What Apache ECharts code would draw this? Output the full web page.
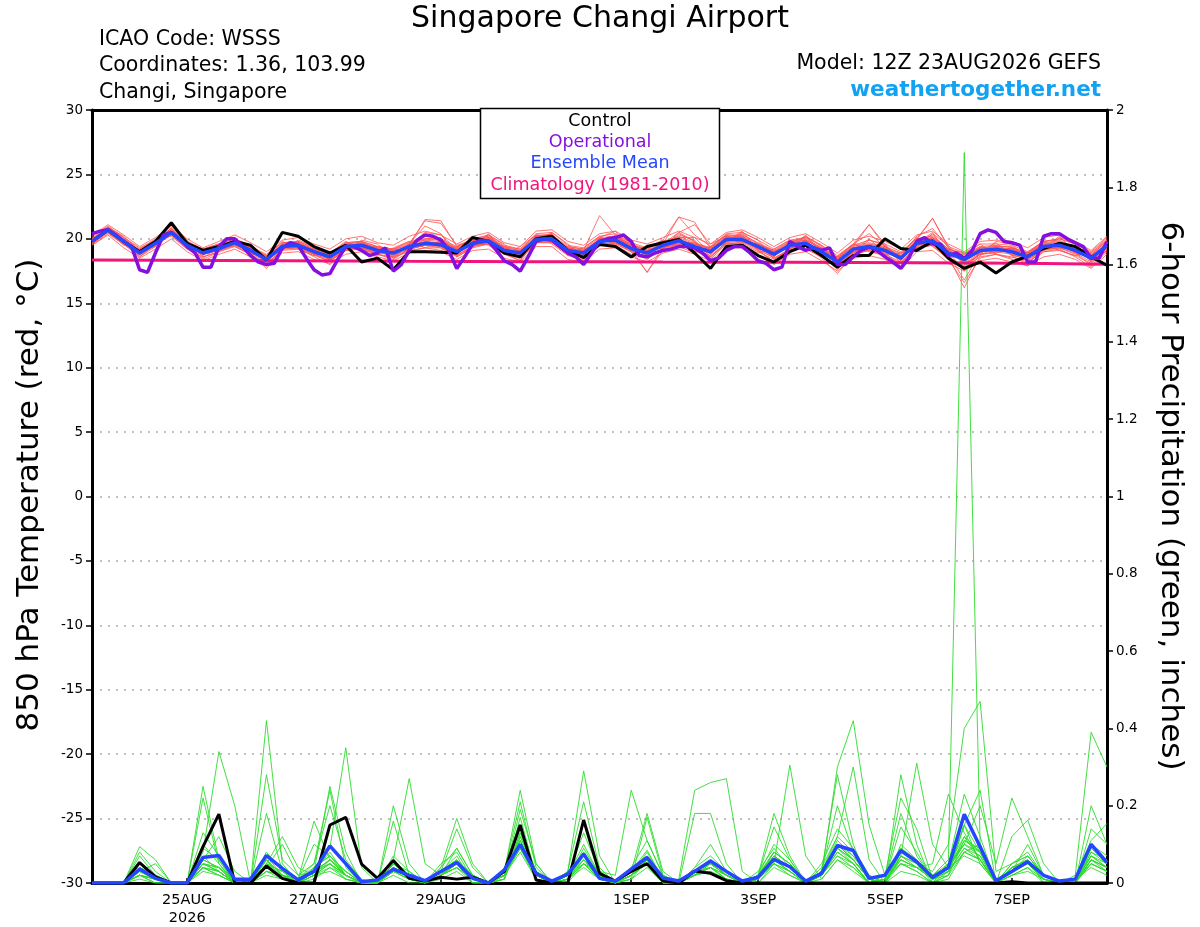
<!DOCTYPE html>
<html><head><meta charset="utf-8">
<script src="https://cdn.jsdelivr.net/npm/echarts@6/dist/echarts.min.js"></script>
<style>html,body{margin:0;padding:0;background:#fff}#c{width:1200px;height:927px}</style>
</head><body><div id="c"></div>
<script>
// ---- x axis ticks (forecast hour from 12Z 23AUG2026) ----
const tickHours = [36, 84, 132, 204, 252, 300, 348];
const tickLabels = ['25AUG\n2026', '27AUG', '29AUG', '1SEP', '3SEP', '5SEP', '7SEP'];
const ensStepHours = 6;
const opStepHours = 3;
const climStepHours = 24;

// ---- 850 hPa temperature (deg C) ----
const controlT = [
 19.8,20.7,19.8,19.0,19.8,21.25,19.65,19.1,19.4,19.8,19.5,18.35,20.5,
 20.2,19.4,18.9,19.5,18.2,18.5,17.6,19.0,19.0,18.95,18.9,20.1,19.8,
 18.9,18.6,20.0,20.2,19.1,18.55,19.55,19.4,18.6,19.4,19.7,19.95,18.9,
 17.7,19.4,19.5,18.7,18.2,19.0,19.5,18.7,17.8,18.7,18.7,20.0,19.25,
 19.1,19.8,18.5,17.7,18.2,17.35,18.2,18.65,19.25,19.65,19.4,18.6,17.95];
const meanT = [
 19.8,20.7,19.8,18.9,19.65,20.5,19.5,18.9,19.25,19.7,19.1,18.4,19.4,
 19.5,19.0,18.6,19.4,19.5,19.1,18.9,19.4,19.65,19.55,19.0,19.65,19.85,
 19.1,18.9,19.95,20.0,19.1,18.9,19.8,19.9,19.25,18.9,19.5,19.85,19.4,
 19.0,19.95,19.95,19.4,18.8,19.5,19.65,19.0,18.2,19.2,19.4,19.1,18.5,
 19.65,19.85,18.9,18.4,19.1,19.2,19.0,18.6,19.4,19.5,19.1,18.5,19.5];
const operationalT = [
 20.4,20.6,20.7,20.3,19.8,19.4,17.6,17.4,18.9,20.3,
 20.5,20.0,19.4,18.9,17.8,17.8,19.4,20.0,20.0,19.4,
 18.7,18.2,18.0,18.1,19.3,19.7,19.5,18.5,17.6,17.2,
 17.3,18.4,19.4,19.4,19.1,18.7,18.9,19.3,17.5,18.0,
 19.1,19.9,20.3,20.2,19.9,19.1,17.7,18.6,19.6,19.9,
 19.8,19.1,18.3,18.0,17.5,18.6,19.8,20.0,19.9,19.4,
 18.9,18.6,18.0,18.9,19.8,20.0,20.1,20.3,19.8,18.7,
 18.6,18.9,19.1,19.2,19.4,19.4,19.3,18.9,18.3,18.5,
 19.1,19.4,19.4,18.9,18.3,18.1,17.6,17.8,19.8,19.4,
 19.1,19.3,19.1,19.3,18.0,18.0,18.6,19.1,19.4,19.1,
 18.6,18.2,17.7,18.5,19.8,20.1,19.6,19.6,18.7,18.9,
 18.5,19.1,20.4,20.7,20.5,19.8,19.7,19.5,18.2,18.2,
 20.2,20.4,20.4,20.0,19.7,19.4,18.5,18.5,19.8];
const climatologyT = [18.35,18.34,18.32,18.30,18.28,18.26,18.25,18.23,18.22,18.20,18.19,18.18,18.17,18.15,18.13,18.09,18.02];
const memberT = [
 [19.9,20.9,20.0,19.1,19.8,20.8,19.7,19.0,19.2,19.9,19.3,18.2,19.6, 19.7,19.2,18.5,19.6,19.8,19.0,18.7,19.6,21.4,21.2,19.5,19.9,20.2, 19.3,18.6,20.3,20.1,19.0,18.5,19.6,20.2,19.6,18.7,19.2,20.4,19.8, 18.8,19.9,20.4,19.6,18.5,19.2,19.9,19.3,18.4,19.5,19.9,19.5,18.3, 19.8,20.3,19.2,18.0,18.8,19.0,19.3,18.9,19.8,19.9,19.3,18.4,19.7],
 [19.6,20.5,19.7,18.8,19.5,20.3,19.3,18.7,19.5,19.8,19.0,18.5,19.2, 19.3,18.8,18.4,19.2,19.3,19.3,19.1,19.2,19.5,19.8,19.2,19.5,19.7, 18.9,19.1,19.8,20.2,19.3,19.1,21.8,20.3,19.1,19.0,19.7,19.8,19.2, 19.2,20.2,19.8,19.2,19.0,19.8,20.1,19.2,18.0,19.0,19.2,18.9,18.7, 19.5,19.6,18.6,16.2,18.7,19.4,18.8,18.4,19.1,19.6,18.9,18.7,19.3],
 [20.0,20.8,19.9,19.0,19.9,20.6,19.6,19.1,19.4,19.6,19.3,18.6,19.5, 19.6,19.1,18.8,19.5,19.6,19.2,18.6,19.7,19.9,19.4,18.8,19.8,20.1, 19.2,18.7,20.2,19.8,18.9,18.8,20.0,20.1,19.5,18.6,19.6,21.7,21.3, 19.3,20.3,20.2,19.3,18.6,19.7,19.9,18.8,18.5,19.4,21.1,19.4,18.6, 19.9,21.6,19.3,18.6,19.4,19.0,19.2,18.8,19.6,19.7,19.2,18.3,19.8],
 [19.7,20.6,19.6,18.9,19.6,20.4,19.4,18.8,19.1,19.5,19.0,18.3,19.3, 19.4,18.9,18.7,19.3,19.4,19.0,19.0,19.3,19.6,19.5,19.1,19.6,19.8, 19.0,18.9,19.9,20.3,19.2,18.7,19.9,19.8,19.2,17.4,19.4,19.9,19.5, 18.9,19.9,19.8,19.5,18.9,19.4,19.6,19.1,18.3,19.1,19.3,19.0,18.4, 19.6,19.8,18.8,16.8,18.9,19.3,18.9,18.5,19.3,19.4,19.0,18.6,19.4],
 [19.8,20.8,19.9,19.0,19.7,20.5,19.6,18.8,19.4,19.8,19.2,18.5,19.4, 19.6,18.9,18.5,19.4,19.6,19.2,18.9,19.5,19.8,19.7,19.0,19.8,20.0, 19.2,18.8,20.1,20.0,19.2,19.0,19.7,20.0,19.4,19.0,19.5,20.0,19.3, 19.1,20.1,20.1,19.3,18.7,19.6,19.8,19.0,18.1,19.3,19.5,19.2,18.5, 19.7,20.0,19.0,18.2,19.1,19.1,19.1,18.7,19.5,19.5,19.1,18.5,19.6],
 [19.5,20.4,19.6,18.7,19.5,20.3,19.2,18.6,19.0,19.4,18.8,18.1,19.1, 19.2,18.7,18.3,19.1,19.2,18.8,18.6,19.0,19.3,19.3,18.7,19.4,19.6, 18.8,18.5,19.7,19.7,18.8,18.6,19.5,19.6,19.0,18.6,19.2,19.6,19.1, 18.6,19.6,19.6,19.0,18.4,19.1,19.4,18.6,17.8,18.8,19.1,18.7,18.1, 19.3,19.5,18.4,17.8,18.6,18.8,18.6,18.2,19.0,19.1,18.7,18.1,19.1],
 [20.1,21.0,20.1,19.2,20.0,20.8,19.8,19.2,19.6,20.0,19.4,18.7,19.7, 19.8,19.3,18.9,19.7,19.8,19.4,19.2,19.8,20.0,19.9,19.3,20.0,20.2, 19.4,19.2,20.3,20.3,19.4,19.2,20.1,20.2,19.6,19.2,19.8,20.2,19.7, 19.3,20.3,20.3,19.7,19.1,19.8,20.0,19.3,18.5,19.5,19.7,19.4,18.8, 20.0,20.2,19.2,18.8,19.4,19.5,19.3,18.9,19.7,19.8,19.4,18.8,19.8],
 [19.7,20.6,19.8,18.8,19.6,20.6,19.3,19.0,19.2,19.7,19.1,18.3,19.3, 19.5,19.0,18.6,19.5,19.3,18.9,19.0,19.3,19.6,19.4,18.9,19.6,19.7, 19.0,19.0,19.8,19.9,19.0,19.1,19.9,19.7,19.2,19.1,19.3,19.8,19.6, 19.2,19.8,19.9,19.5,19.0,19.3,19.5,19.2,18.4,19.0,19.3,19.2,18.7, 19.5,19.7,19.1,18.6,19.2,19.3,19.2,18.8,19.2,19.3,19.2,18.6,19.4],
 [19.9,20.7,19.7,19.0,19.8,20.4,19.5,18.9,19.3,19.6,19.0,18.4,19.5, 19.4,19.1,18.7,19.3,19.4,19.1,18.8,19.4,19.6,19.6,19.1,19.8,20.0, 19.1,18.8,20.0,20.1,19.1,18.8,19.8,20.0,19.3,18.8,19.5,20.1,20.1, 18.9,20.0,20.2,19.4,18.7,19.4,19.8,18.9,18.2,19.3,19.5,19.0,18.4, 19.7,20.1,18.9,18.3,19.0,19.2,19.0,18.6,19.4,19.6,19.1,18.4,19.6],
 [19.6,20.5,19.9,18.9,19.7,20.4,19.6,18.9,19.4,19.8,19.2,18.6,19.3, 19.6,19.0,18.5,19.3,19.6,19.2,19.1,19.3,19.7,19.7,19.0,19.7,19.8, 19.2,18.9,20.0,19.9,19.2,19.1,19.8,19.8,19.4,19.0,19.6,19.9,19.2, 19.0,20.1,19.8,19.3,18.9,19.6,19.6,19.1,18.2,19.2,19.4,19.2,18.6, 19.6,19.8,18.9,18.3,19.0,19.1,19.0,18.7,19.4,19.5,19.2,18.6,19.5],
 [19.8,20.7,19.9,19.1,19.6,20.3,19.6,19.2,19.5,19.6,18.9,18.5,19.6, 19.3,18.8,18.8,19.6,19.3,18.9,19.2,19.5,19.5,19.8,19.2,19.5,20.0, 19.4,18.6,19.8,20.4,19.0,18.7,20.0,19.7,19.1,18.8,19.7,20.1,19.0, 19.4,19.8,20.3,19.1,18.6,19.8,19.5,18.7,18.6,19.6,19.2,18.8,18.9, 19.4,20.1,19.2,18.1,18.9,19.5,18.7,18.9,19.6,19.3,18.8,18.7,19.9],
 [19.7,20.8,19.7,18.8,19.9,20.6,19.4,18.8,19.1,19.8,19.3,18.3,19.2, 19.7,19.1,18.4,19.2,19.7,19.3,18.7,19.2,19.8,19.4,18.8,19.9,19.7, 18.9,19.1,20.2,19.8,19.3,19.0,19.6,20.2,19.5,19.1,19.3,19.7,19.7, 18.8,20.2,19.8,19.6,19.0,19.3,19.9,19.2,17.9,19.0,19.6,19.3,18.3, 19.9,19.6,18.7,18.5,19.3,18.9,19.3,18.4,19.2,19.7,19.3,18.3,19.3],
 [19.9,20.6,19.8,19.0,19.8,20.7,19.5,19.0,19.2,19.6,19.2,18.4,19.4, 19.5,18.9,18.6,19.5,19.5,19.0,19.0,19.4,19.6,19.7,19.1,19.6,20.0, 19.0,19.0,19.9,20.1,19.0,18.9,19.9,19.9,19.2,18.9,19.5,20.0,19.3, 19.1,19.9,20.1,19.3,18.8,19.5,19.8,18.9,18.3,19.3,19.3,19.1,18.6, 19.8,19.8,19.0,17.5,19.0,19.1,19.1,18.6,19.5,19.4,19.2,18.4,19.6],
 [19.8,20.7,19.8,18.9,19.6,20.4,19.5,18.8,19.3,19.7,19.0,18.4,19.4, 19.4,19.0,18.6,19.3,19.5,19.1,18.9,19.5,20.5,20.3,19.2,19.7,19.9, 19.0,18.8,20.0,20.0,19.1,18.8,19.9,19.9,19.2,18.8,19.5,20.0,19.5, 19.0,20.0,20.0,19.4,18.7,19.5,19.7,19.0,18.1,19.2,19.5,19.1,18.4, 19.7,20.0,18.9,18.4,19.1,19.2,19.0,18.5,19.4,19.5,19.0,18.5,19.6],
 [19.7,20.6,19.7,18.8,19.7,20.5,19.4,18.9,19.3,19.7,19.1,18.4,19.3, 19.5,19.0,18.6,19.4,19.4,19.1,18.9,19.4,19.7,19.6,19.0,19.6,19.8, 19.1,18.9,19.9,20.0,19.1,18.9,19.8,19.9,19.3,18.9,19.5,19.9,19.4, 19.0,20.0,19.9,19.4,18.8,19.5,19.7,19.0,18.2,19.2,19.4,19.1,18.5, 19.6,19.9,18.9,18.3,19.0,19.2,19.0,18.6,19.4,19.5,19.1,18.5,19.5],
 [20.0,20.9,19.9,19.1,19.9,20.7,19.7,19.1,19.5,19.9,19.3,18.6,19.6, 19.7,19.2,18.8,19.6,19.7,19.3,19.1,19.6,19.9,19.8,19.2,19.9,20.1, 19.3,19.1,20.2,20.2,19.3,19.1,20.0,20.1,19.5,19.1,19.7,20.1,19.6, 19.2,20.2,20.2,19.6,19.0,19.7,19.9,19.2,18.4,19.4,19.6,19.3,18.7, 19.9,20.1,19.1,18.6,19.3,19.4,19.2,18.8,19.6,19.7,19.3,18.7,19.7],
 [20.2,21.1,20.3,19.4,20.1,21.0,20.0,19.3,19.8,20.3,19.7,19.0,19.9, 20.1,19.6,19.2,20.0,20.2,19.7,19.5,20.2,20.6,20.3,19.6,20.2,20.5, 19.7,19.4,20.6,20.7,19.8,19.5,20.4,20.6,19.9,19.6,20.1,20.6,20.1, 19.6,20.5,20.7,20.1,19.4,20.1,20.4,19.7,18.9,19.9,20.2,19.8,19.2, 20.3,20.6,19.6,19.0,19.8,19.9,19.8,19.3,20.1,20.3,19.8,19.1,20.2],
 [19.5,20.3,19.3,18.5,19.2,20.0,19.0,18.3,18.8,19.2,18.6,17.9,18.9, 19.0,18.4,18.1,18.8,19.0,18.6,18.3,18.9,19.1,19.0,18.4,19.1,19.2, 18.5,18.2,19.4,19.4,18.4,18.2,19.2,19.3,18.6,18.2,18.9,19.2,18.8, 18.3,19.3,19.3,18.7,18.0,18.8,19.0,18.3,17.5,18.5,18.7,18.4,17.7, 19.0,19.1,18.1,17.5,18.3,18.5,18.2,17.9,18.6,18.8,18.4,17.7,18.8],
 [19.7,20.9,20.2,19.0,19.4,20.9,19.9,18.6,19.0,20.0,19.5,18.1,19.1, 19.9,19.4,18.3,19.1,19.9,19.6,18.5,19.1,20.0,20.1,18.7,19.4,20.3, 19.6,18.4,19.7,20.5,19.6,18.5,19.5,20.3,19.7,18.5,19.2,20.3,19.9, 18.6,19.7,20.5,19.9,18.4,19.2,20.2,19.5,17.9,18.9,19.9,19.6,18.1, 19.4,20.4,19.5,18.0,18.8,19.8,19.6,18.2,19.1,20.1,19.7,18.2,19.1],
 [19.9,20.5,19.5,19.2,19.9,20.2,19.2,19.2,19.6,19.4,18.8,18.7,19.8, 19.2,18.7,18.9,19.8,19.2,18.7,19.3,19.8,19.3,19.1,19.4,19.9,19.5, 18.8,19.4,20.3,19.6,18.7,19.3,20.2,19.5,18.8,19.3,19.9,19.4,18.9, 19.4,20.3,19.5,18.9,19.2,19.9,19.2,18.6,18.6,19.6,19.0,18.7,18.9, 20.1,19.4,18.5,18.8,19.6,18.8,18.5,19.0,19.8,19.1,18.7,18.9,19.9],
 [20.0,20.8,19.6,18.6,19.6,20.6,19.3,18.5,19.4,19.9,18.8,17.9,19.2, 19.8,18.8,18.2,19.2,19.8,18.8,18.5,19.6,21.0,20.4,18.6,19.3,20.4, 18.9,18.3,20.2,20.4,18.7,18.4,20.1,20.6,19.0,18.4,19.3,20.5,19.8, 18.5,19.8,20.6,19.1,18.2,19.3,20.3,18.8,17.6,19.1,20.0,18.9,17.9, 19.6,20.5,18.6,17.6,18.9,19.7,18.7,18.0,19.3,20.2,18.9,17.9,19.2],
 [19.6,20.6,20.0,19.1,19.7,20.3,19.7,19.1,19.1,19.5,19.3,18.7,19.5, 19.3,19.2,18.9,19.2,19.3,19.4,19.2,19.1,19.3,19.8,19.3,19.5,19.6, 19.4,19.1,19.7,19.7,19.4,19.2,19.6,19.6,19.5,19.2,19.3,19.6,19.6, 19.3,19.6,19.7,19.6,19.1,19.3,19.4,19.3,18.6,18.9,19.2,19.4,18.9, 19.3,19.6,19.2,18.9,18.8,18.9,19.3,18.9,19.1,19.3,19.4,18.8,19.2],
 [19.8,20.6,19.9,19.0,19.8,20.4,19.6,18.8,19.3,19.8,19.2,18.5,19.5, 19.6,19.1,18.7,19.5,19.6,19.1,19.0,19.5,21.5,21.4,19.4,19.6,20.1, 19.3,19.0,20.2,20.3,19.3,19.0,20.0,20.0,19.5,19.0,19.6,20.5,21.1, 19.6,20.2,20.0,19.5,18.9,19.6,20.2,19.4,18.5,19.6,20.4,19.4,18.6, 20.2,20.8,19.3,18.6,19.3,19.4,19.4,18.8,19.8,20.0,19.6,19.0,20.1],
 [19.7,20.5,19.6,18.6,19.4,20.4,19.3,18.4,19.0,19.5,18.8,17.7,19.2, 19.3,18.6,18.0,19.1,19.3,18.8,18.4,19.2,19.5,19.3,18.6,19.3,19.6, 18.8,18.3,19.8,19.8,18.8,18.3,19.6,19.7,19.0,17.4,19.1,19.6,19.1, 18.4,19.6,19.7,19.1,18.2,19.1,19.4,18.5,17.3,18.8,19.1,18.7,17.8, 19.3,19.5,18.4,16.6,18.5,18.8,18.4,17.9,19.0,19.2,18.6,17.8,19.0],
 [19.9,20.9,20.1,19.3,19.9,20.7,19.8,19.2,19.6,20.0,19.4,18.8,19.7, 19.8,19.3,18.9,19.7,19.8,19.4,19.2,19.7,20.0,20.0,19.4,20.0,20.3, 19.5,19.2,20.4,20.5,19.5,19.3,20.2,20.4,19.7,19.3,19.9,21.7,20.3, 19.4,20.4,20.5,19.9,19.2,19.9,20.1,19.5,18.7,19.6,21.1,19.6,19.0, 20.0,21.6,19.4,18.9,19.6,19.6,19.5,19.0,19.8,20.0,19.6,18.9,20.0],
 [19.8,20.7,19.7,18.8,19.5,20.6,19.4,18.9,19.2,19.6,18.9,18.2,19.3, 19.4,18.8,18.4,19.3,19.4,19.0,18.6,19.2,19.5,19.4,18.8,19.4,19.7, 18.9,18.6,19.8,19.8,18.9,18.6,19.6,19.7,19.1,18.6,19.3,19.7,19.2, 18.7,19.7,19.8,19.2,18.5,19.2,19.4,18.7,17.9,19.0,19.2,18.8,18.2, 19.4,19.6,18.6,17.9,18.8,19.0,18.8,18.3,19.2,19.3,18.9,18.2,19.3]
];

// ---- 6-hour precipitation (inches) ----
const controlP = [
 0,0,0,0.053,0.016,0,0,0.094,0.178,0,0,0.044,0.012,
 0,0,0.15,0.17,0.049,0.012,0.058,0.012,0.005,0.015,0.01,0.015,0,
 0.03,0.15,0.008,0,0,0.163,0.025,0.005,0.03,0.05,0.005,0,0.031,
 0.025,0.006,0,0,0,0,0,0,0,0,0,0,0,
 0,0,0,0,0,0,0.003,0,0,0,0,0,0];
const meanP = [
 0,0,0,0.036,0.012,0,0,0.066,0.071,0.01,0.01,0.071,0.038,
 0.008,0.03,0.096,0.05,0.003,0.008,0.036,0.02,0.006,0.03,0.053,0.012,0,
 0.034,0.1,0.025,0.005,0.023,0.075,0.012,0.005,0.036,0.066,0.013,0.005,0.03,
 0.057,0.03,0.005,0.015,0.061,0.042,0.005,0.025,0.097,0.084,0.012,0.02,0.084,
 0.055,0.014,0.04,0.178,0.094,0.006,0.03,0.055,0.02,0.005,0.01,0.1,0.053];
const memberP = [
 [0,0,0,0.094,0.06,0,0,0.05,0.04,0.01,0,0.03,0.02, 0,0.02,0.06,0.03,0,0,0.03,0.01,0,0.02,0.05,0.01,0, 0.03,0.21,0.04,0,0.02,0.1,0.02,0,0.03,0.07,0,0,0.02, 0.04,0.01,0,0.01,0.07,0.04,0,0.03,0.28,0.1,0,0.01,0.09, 0.05,0,0.03,0.12,0.06,0,0.04,0.05,0.01,0,0,0.09,0.05],
 [0,0,0,0.08,0.03,0,0,0.25,0.06,0,0,0.06,0.01, 0,0.03,0.08,0.02,0,0,0.16,0.02,0,0.03,0.07,0,0, 0.02,0.13,0.03,0,0.01,0.08,0.01,0,0.02,0.05,0,0.01,0.24, 0.26,0.27,0.03,0,0.05,0.02,0,0.02,0.1,0.06,0.01,0,0.07, 0.04,0.01,0.02,0.15,0.05,0,0.03,0.07,0.02,0,0.01,0.05,0.03],
 [0,0,0,0.07,0.02,0,0,0.22,0.05,0,0,0.04,0.1, 0.02,0.05,0.24,0.04,0,0,0.05,0.03,0,0.02,0.04,0.01,0, 0.01,0.17,0.02,0,0,0.05,0.02,0,0.01,0.04,0,0,0.03, 0.05,0.02,0,0.02,0.05,0.03,0,0.04,0.12,0.3,0.06,0,0.05, 0.03,0,0.05,0.1,0.08,0,0.02,0.04,0,0,0,0.07,0.04],
 [0,0,0,0.05,0.02,0,0,0.08,0.34,0.2,0,0.02,0.01, 0,0.01,0.04,0.02,0,0,0.02,0,0,0.01,0.03,0,0, 0.02,0.08,0.01,0,0.03,0.21,0.04,0,0.01,0.06,0,0,0.02, 0.03,0.01,0,0,0.04,0.02,0,0.01,0.06,0.04,0,0,0.03, 0.02,0,0.01,0.08,0.1,0,0.02,0.03,0.01,0,0.02,0.39,0.3],
 [0,0,0,0.03,0.05,0,0,0.1,0.05,0,0,0.42,0.05, 0,0.02,0.05,0.01,0,0,0.04,0.01,0,0.03,0.06,0.02,0, 0.02,0.1,0.02,0,0.01,0.07,0.03,0,0.02,0.08,0.01,0,0.18, 0.18,0.05,0,0.01,0.06,0.03,0,0.02,0.09,0.05,0,0.01,0.06, 0.04,0.01,0.03,0.09,0.07,0,0.03,0.06,0,0,0,0.06,0.03],
 [0,0,0,0.02,0.01,0,0,0.13,0.07,0,0,0.18,0.03, 0,0.04,0.09,0.35,0.04,0,0.03,0.02,0,0.02,0.05,0,0, 0.01,0.12,0.03,0,0.02,0.06,0.01,0,0.03,0.05,0,0,0.02, 0.06,0.02,0,0.01,0.08,0.05,0,0.03,0.1,0.07,0.01,0,0.28, 0.1,0,0.02,0.11,0.09,0,0.05,0.08,0.02,0,0.01,0.04,0.02],
 [0,0,0,0.04,0.02,0,0,0.06,0.12,0.03,0,0.07,0.04, 0.01,0.1,0.07,0.03,0,0,0.05,0.02,0,0.04,0.09,0.02,0, 0.02,0.19,0.05,0,0.01,0.09,0.02,0,0.02,0.07,0.01,0,0.04, 0.07,0.03,0,0.02,0.1,0.06,0,0.05,0.14,0.09,0.02,0,0.08, 0.06,0.02,0.06,1.89,0.1,0,0.04,0.05,0.01,0,0,0.08,0.06],
 [0,0,0,0.03,0.01,0,0,0.09,0.06,0,0,0.28,0.06, 0.02,0.03,0.05,0.02,0,0,0.07,0.03,0,0.05,0.08,0.01,0, 0.03,0.15,0.02,0,0.02,0.13,0.03,0,0.04,0.11,0.02,0,0.03, 0.04,0.02,0,0.03,0.09,0.04,0,0.02,0.08,0.05,0,0.02,0.22, 0.14,0.01,0.04,0.07,0.05,0,0.03,0.1,0.02,0,0.01,0.1,0.07],
 [0,0,0,0.02,0,0,0,0.04,0.03,0,0,0.05,0.12, 0.04,0.02,0.03,0.01,0,0,0.03,0.01,0,0.02,0.04,0,0, 0.02,0.09,0.01,0,0.01,0.04,0.01,0,0.02,0.06,0,0,0.02, 0.03,0.01,0,0.01,0.05,0.305,0.07,0.01,0.06,0.03,0,0.01,0.05, 0.03,0,0.02,0.08,0.06,0,0.02,0.04,0.01,0,0.01,0.11,0.154],
 [0,0,0,0.01,0,0,0,0.05,0.04,0,0,0.06,0.02, 0.01,0.16,0.06,0.02,0,0,0.04,0.02,0,0.03,0.14,0.04,0, 0.02,0.11,0.02,0,0.02,0.07,0.02,0,0.03,0.085,0.01,0,0.02, 0.05,0.02,0,0.02,0.145,0.06,0,0.03,0.09,0.06,0.01,0,0.1, 0.06,0.01,0.03,0.15,0.08,0,0.04,0.06,0.02,0,0,0.2,0.1],
 [0,0,0,0.03,0.02,0,0,0.07,0.03,0,0,0.08,0.03, 0,0.03,0.25,0.08,0,0,0.06,0.02,0,0.02,0.06,0.01,0, 0.01,0.13,0.03,0,0.01,0.06,0.02,0,0.01,0.17,0.02,0,0.03, 0.04,0.01,0,0.01,0.06,0.03,0,0.02,0.07,0.05,0,0.01,0.145, 0.08,0.01,0.05,0.23,0.12,0,0.03,0.05,0.01,0,0,0.06,0.04],
 [0,0,0,0.02,0.01,0,0,0.04,0.02,0,0,0.03,0.02, 0.01,0.05,0.2,0.06,0.01,0,0.05,0.02,0,0.02,0.05,0.02,0, 0.02,0.1,0.02,0,0.02,0.05,0.01,0,0.02,0.07,0.02,0,0.03, 0.05,0.03,0,0.02,0.07,0.04,0,0.02,0.3,0.42,0.15,0.02,0.06, 0.04,0.01,0.03,0.09,0.06,0,0.03,0.06,0.02,0,0,0.05,0.03],
 [0,0,0,0.04,0.02,0,0,0.06,0.04,0,0,0.05,0.03, 0.01,0.04,0.07,0.03,0,0,0.2,0.05,0,0.03,0.06,0.02,0, 0.02,0.12,0.03,0,0.02,0.08,0.02,0,0.03,0.06,0.01,0,0.04, 0.1,0.03,0,0.02,0.08,0.05,0,0.03,0.11,0.07,0.02,0,0.07, 0.31,0.1,0.04,0.1,0.07,0,0.05,0.07,0.02,0,0.01,0.07,0.05],
 [0,0,0,0.03,0.01,0,0,0.05,0.03,0,0,0.06,0.02, 0,0.03,0.06,0.02,0,0,0.06,0.27,0.05,0.02,0.05,0.01,0, 0.01,0.11,0.02,0,0.01,0.05,0.01,0,0.02,0.05,0,0,0.02, 0.04,0.02,0,0.01,0.06,0.04,0,0.02,0.08,0.05,0,0.01,0.18, 0.07,0.01,0.03,0.08,0.06,0,0.03,0.05,0.01,0,0,0.06,0.04],
 [0,0,0,0.02,0.01,0,0,0.04,0.03,0,0,0.04,0.02, 0,0.03,0.05,0.02,0,0,0.04,0.02,0,0.04,0.167,0.05,0, 0.02,0.09,0.02,0,0.01,0.06,0.02,0,0.02,0.05,0.01,0,0.03, 0.05,0.02,0,0.02,0.07,0.04,0,0.03,0.2,0.08,0.01,0,0.06, 0.04,0.02,0.05,0.12,0.08,0,0.04,0.06,0.02,0,0,0.08,0.05],
 [0,0,0,0.02,0,0,0,0.03,0.02,0,0,0.03,0.01, 0,0.02,0.04,0.01,0,0,0.03,0.01,0,0.02,0.04,0.01,0, 0.03,0.24,0.05,0,0.02,0.07,0.02,0,0.02,0.05,0,0,0.02, 0.04,0.01,0,0.01,0.05,0.03,0,0.02,0.07,0.04,0,0.01,0.05, 0.04,0.05,0.23,0.13,0.06,0,0.03,0.05,0.01,0,0,0.05,0.03],
 [0,0,0,0.03,0.02,0,0,0.05,0.03,0,0,0.04,0.02, 0,0.02,0.05,0.02,0,0,0.04,0.02,0,0.03,0.05,0.01,0, 0.02,0.1,0.02,0,0.03,0.29,0.07,0,0.02,0.06,0.01,0,0.02, 0.05,0.02,0,0.01,0.06,0.03,0,0.02,0.09,0.06,0.01,0,0.07, 0.05,0.03,0.1,0.4,0.47,0.03,0.05,0.07,0.02,0,0,0.07,0.04],
 [0,0,0,0.02,0.01,0,0,0.04,0.02,0,0,0.05,0.03, 0.01,0.03,0.06,0.02,0,0,0.05,0.02,0,0.02,0.05,0.01,0, 0.02,0.09,0.02,0,0.01,0.05,0.03,0.02,0.24,0.11,0.02,0,0.03, 0.05,0.02,0,0.02,0.07,0.04,0,0.03,0.1,0.06,0.01,0,0.07, 0.05,0.02,0.04,0.15,0.24,0,0.04,0.06,0.02,0,0,0.06,0.04],
 [0,0,0,0.03,0.01,0,0,0.06,0.04,0,0,0.07,0.02, 0,0.04,0.07,0.02,0,0,0.05,0.02,0,0.03,0.06,0.02,0, 0.03,0.14,0.03,0,0.02,0.07,0.02,0,0.03,0.18,0.03,0,0.03, 0.06,0.02,0,0.02,0.08,0.05,0,0.03,0.12,0.08,0.02,0,0.09, 0.06,0.02,0.04,0.1,0.2,0.05,0.22,0.12,0.02,0,0,0.09,0.06],
 [0,0,0,0.02,0.01,0,0,0.05,0.03,0,0,0.05,0.02, 0,0.03,0.06,0.02,0,0,0.04,0.02,0,0.02,0.09,0.02,0, 0.02,0.11,0.03,0,0.02,0.07,0.02,0,0.02,0.07,0.01,0,0.03, 0.06,0.02,0,0.02,0.18,0.07,0,0.03,0.1,0.06,0.01,0,0.08, 0.06,0.02,0.04,0.11,0.08,0,0.12,0.163,0.05,0,0,0.14,0.1]
];

// ---- build chart ----
const FONT = 'DejaVu Sans';
const xy = (arr, step) => arr.map((v, i) => [i * step, v]);
const lineSeries = (data, axis, color, width, z) => ({
  type: 'line', data: data, yAxisIndex: axis, xAxisIndex: 0, symbol: 'none', silent: true,
  lineStyle: { color: color, width: width }, z: z, animation: false
});

const series = [];
memberT.forEach(m => series.push(lineSeries(xy(m, ensStepHours), 0, '#ff5252', 0.8, 2)));
memberP.forEach(m => series.push(lineSeries(xy(m, ensStepHours), 1, '#2edb2e', 0.9, 2)));
series.push(lineSeries(xy(climatologyT, climStepHours), 0, '#f0147c', 3, 3));
series.push(lineSeries(xy(controlT, ensStepHours), 0, '#000000', 3, 4));
series.push(lineSeries(xy(controlP, ensStepHours), 1, '#000000', 3, 4));
series.push(lineSeries(xy(operationalT, opStepHours), 0, '#8410e0', 3.5, 5));
series.push(lineSeries(xy(meanT, ensStepHours), 0, '#2546ff', 3.5, 6));
series.push(lineSeries(xy(meanP, ensStepHours), 1, '#2546ff', 3.5, 6));

const chart = echarts.init(document.getElementById('c'), null, { renderer: 'canvas' });
chart.setOption({
  animation: false,
  backgroundColor: '#fff',
  grid: { left: 92, right: 93, top: 110, bottom: 44, show: false },
  xAxis: [{
    type: 'value', min: 0, max: 384, position: 'bottom',
    axisLine: { show: true, onZero: false, lineStyle: { color: '#000', width: 3 } },
    axisTick: { show: true, inside: true, length: 5, customValues: tickHours, lineStyle: { color: '#000', width: 1.5 } },
    axisLabel: { customValues: tickHours, formatter: v => { const k = tickHours.indexOf(v); return k >= 0 ? tickLabels[k] : ''; },
      fontFamily: FONT, fontSize: 14.5, color: '#000', margin: 8, lineHeight: 18 },
    splitLine: { show: false }
  }, {
    type: 'value', min: 0, max: 384, position: 'top',
    axisLine: { show: true, onZero: false, lineStyle: { color: '#000', width: 3 } },
    axisTick: { show: false }, axisLabel: { show: false }, splitLine: { show: false }
  }],
  yAxis: [{
    type: 'value', min: -30, max: 30, interval: 5, position: 'left',
    axisLine: { show: true, onZero: false, lineStyle: { color: '#000', width: 3 } },
    axisTick: { show: true, length: 6, lineStyle: { color: '#000', width: 1.5 } },
    axisLabel: { fontFamily: FONT, fontSize: 13.5, color: '#000', margin: 9 },
    splitLine: { show: true, lineStyle: { color: '#aaaaaa', type: [2, 6], width: 1.5 } }
  }, {
    type: 'value', min: 0, max: 2, interval: 0.2, position: 'right',
    axisLine: { show: true, onZero: false, lineStyle: { color: '#000', width: 3 } },
    axisTick: { show: true, length: 6, lineStyle: { color: '#000', width: 1.5 } },
    axisLabel: { fontFamily: FONT, fontSize: 13.5, color: '#000', margin: 9, formatter: v => String(Math.round(v * 10) / 10) },
    splitLine: { show: false }
  }],
  graphic: [
    { type: 'text', left: 'center', top: 4, style: { text: 'Singapore Changi Airport', font: '30px "DejaVu Sans"', fill: '#000' } },
    { type: 'text', x: 99, y: 40, style: { text: 'ICAO Code: WSSS', font: '20.5px "DejaVu Sans"', fill: '#000', verticalAlign: 'middle' } },
    { type: 'text', x: 99, y: 66, style: { text: 'Coordinates: 1.36, 103.99', font: '20.5px "DejaVu Sans"', fill: '#000', verticalAlign: 'middle' } },
    { type: 'text', x: 99, y: 93, style: { text: 'Changi, Singapore', font: '20.5px "DejaVu Sans"', fill: '#000', verticalAlign: 'middle' } },
    { type: 'text', x: 1101, y: 64, style: { text: 'Model: 12Z 23AUG2026 GEFS', font: '20.5px "DejaVu Sans"', fill: '#000', align: 'right', verticalAlign: 'middle' } },
    { type: 'text', x: 1101, y: 90, style: { text: 'weathertogether.net', font: 'bold 21.5px "DejaVu Sans"', fill: '#12a2f2', align: 'right', verticalAlign: 'middle' } },
    { type: 'rect', shape: { x: 480.5, y: 108.5, width: 239, height: 90 }, style: { fill: '#fff', stroke: '#000', lineWidth: 1.5 }, z: 100 },
    { type: 'text', x: 600, y: 121, z: 101, style: { text: 'Control', font: '17.5px "DejaVu Sans"', fill: '#000', align: 'center', verticalAlign: 'middle' } },
    { type: 'text', x: 600, y: 142, z: 101, style: { text: 'Operational', font: '17.5px "DejaVu Sans"', fill: '#8410e0', align: 'center', verticalAlign: 'middle' } },
    { type: 'text', x: 600, y: 163, z: 101, style: { text: 'Ensemble Mean', font: '17.5px "DejaVu Sans"', fill: '#2546ff', align: 'center', verticalAlign: 'middle' } },
    { type: 'text', x: 600, y: 185, z: 101, style: { text: 'Climatology (1981-2010)', font: '17.5px "DejaVu Sans"', fill: '#f0147c', align: 'center', verticalAlign: 'middle' } },
    { type: 'text', x: 30, y: 495, rotation: Math.PI / 2, style: { text: '850 hPa Temperature (red, °C)', font: '31px "DejaVu Sans"', fill: '#000', align: 'center', verticalAlign: 'middle' } },
    { type: 'text', x: 1170, y: 496, rotation: -Math.PI / 2, style: { text: '6-hour Precipitation (green, inches)', font: '31px "DejaVu Sans"', fill: '#000', align: 'center', verticalAlign: 'middle' } }
  ],
  series: series
});
</script>
</body></html>
